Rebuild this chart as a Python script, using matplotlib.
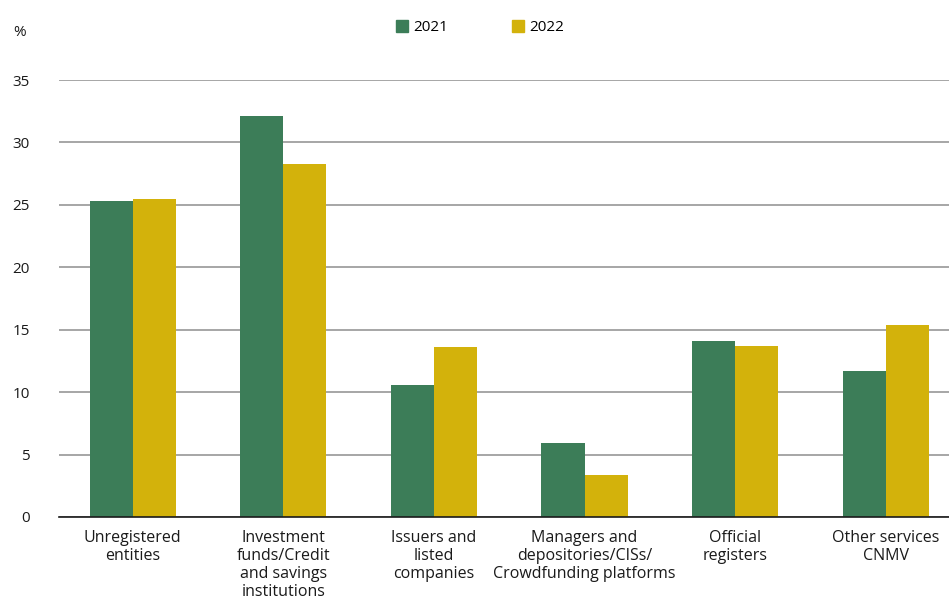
import numpy as np
import matplotlib
matplotlib.use("Agg")
import matplotlib.pyplot as plt
from matplotlib.lines import Line2D

plt.rcParams['font.family'] = ['Open Sans', 'DejaVu Sans']

categories = [
    "Unregistered\nentities",
    "Investment\nfunds/Credit\nand savings\ninstitutions",
    "Issuers and\nlisted\ncompanies",
    "Managers and\ndepositories/CISs/\nCrowdfunding platforms",
    "Official\nregisters",
    "Other services\nCNMV",
]
vals_2021 = [25.3, 32.1, 10.6, 5.9, 14.1, 11.7]
vals_2022 = [25.5, 28.3, 13.6, 3.4, 13.7, 15.4]

green = "#3c7d58"
yellow = "#d3b20b"

fig = plt.figure(figsize=(9.49, 6.03), dpi=100)
ax = fig.add_axes([59 / 949, 1 - 517 / 603, 890 / 949, 437 / 603])

x = np.arange(len(categories))
w = 0.286
ax.bar(x - w / 2, vals_2021, w, color=green, zorder=3)
ax.bar(x + w / 2, vals_2022, w, color=yellow, zorder=3)

# the plot area runs past the right edge of the figure
ax.set_xlim(-0.49, 5.42)
ax.set_ylim(0, 35)
ax.set_yticks(range(0, 36, 5))
ax.yaxis.grid(True, color="#a6a6a6", linewidth=1.4, zorder=0)
ax.set_axisbelow(True)

for s in ["top", "right", "left"]:
    ax.spines[s].set_visible(False)
ax.spines["bottom"].set_color("#1a1a1a")
ax.spines["bottom"].set_linewidth(1.2)
ax.spines["bottom"].set_zorder(4)

ax.tick_params(axis="y", length=0, pad=21, labelsize=11, colors="#1a1a1a")
ax.tick_params(axis="x", length=0, pad=9, labelsize=11.5, colors="#1a1a1a")
ax.set_xticks(x)
ax.set_xticklabels(categories, linespacing=1.18)

fig.text(20 / 949, 1 - 33 / 603, "%", fontsize=11, color="#1a1a1a",
         ha="center", va="center")

handles = [
    Line2D([], [], marker="s", linestyle="", markersize=8, color=green),
    Line2D([], [], marker="s", linestyle="", markersize=8, color=yellow),
]
fig.legend(handles, ["2021", "2022"], ncol=2, frameon=False, fontsize=11,
           loc="center", bbox_to_anchor=(480 / 949, 1 - 27.5 / 603),
           handlelength=0.8, handletextpad=0.3, columnspacing=4.2)

fig.savefig("out.png", dpi=100)
